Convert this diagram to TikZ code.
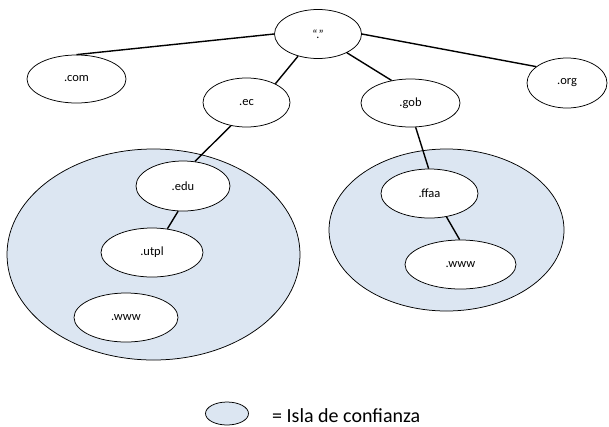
\documentclass[tikz,border=0pt]{standalone}
\usepackage{fontspec}
\setmainfont{Carlito}
\usetikzlibrary{shapes.geometric}
\definecolor{islandfill}{RGB}{220,230,242}
\begin{document}
\begin{tikzpicture}[x=1pt,y=-1pt,
  dnode/.style={ellipse,draw=black,line width=0.75pt,fill=white,inner sep=0pt,
    font=\fontsize{12.5}{14}\selectfont},
  island/.style={ellipse,draw=black,line width=0.75pt,fill=islandfill,inner sep=0pt},
  link/.style={draw=black,line width=1.4pt}]
\useasboundingbox (0,0) rectangle (609,426);

% trust islands
\node[island,minimum width=293pt,minimum height=211pt] (isleA) at (153.5,254.5) {};
\node[island,minimum width=235pt,minimum height=162pt] (isleB) at (446.5,230) {};

% domain nodes
\node[dnode,minimum width=87pt,minimum height=49pt,font=\fontsize{12}{14}\selectfont] (root) at (318,34) {“.”};
\node[dnode,minimum width=99pt,minimum height=48pt] (com) at (76.5,79) {.com};
\node[dnode,minimum width=87pt,minimum height=49pt] (ec) at (246.5,102.5) {.ec};
\node[dnode,minimum width=99pt,minimum height=48pt] (gob) at (410.5,103) {.gob};
\node[dnode,minimum width=80pt,minimum height=50pt] (org) at (567,83) {.org};
\node[dnode,minimum width=94pt,minimum height=50pt] (edu) at (183,186) {.edu};
\node[dnode,minimum width=102pt,minimum height=49pt] (utpl) at (152,252.5) {.utpl};
\node[dnode,minimum width=104pt,minimum height=49pt] (wwwA) at (126,317.5) {.www};
\node[dnode,minimum width=97pt,minimum height=49pt] (ffaa) at (429.5,193.5) {.ffaa};
\node[dnode,minimum width=111pt,minimum height=49pt] (wwwB) at (460.5,264.5) {.www};

% tree links
\draw[link] (root.west) -- (com.north);
\draw[link] (root.east) -- (org.152);
\draw[link] (root.228) -- (ec.33);
\draw[link] (root.327) -- (gob.130);
\draw[link] (ec.236) -- (edu.64);
\draw[link] (edu.259) -- (utpl.57);
\draw[link] (gob.282) -- (ffaa.92);
\draw[link] (ffaa.306) -- (wwwB.92);

% legend
\node[island,minimum width=43pt,minimum height=23pt] (key) at (227,413.5) {};
\node[anchor=base west,inner sep=0pt,font=\fontsize{20}{24}\selectfont] (keytext) at (272,422) {= Isla de confianza};
\end{tikzpicture}
\end{document}
